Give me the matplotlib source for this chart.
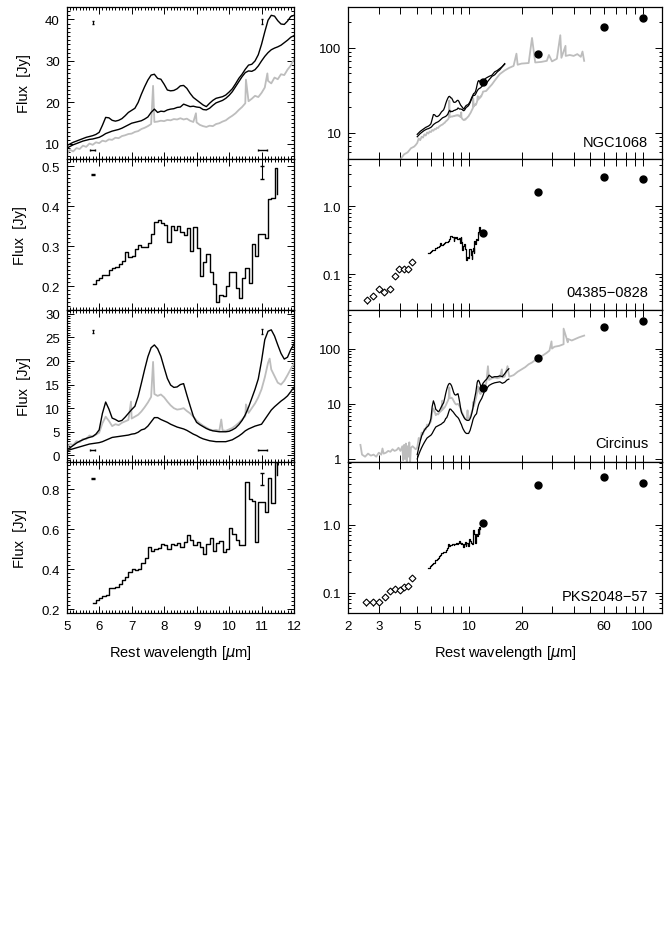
import numpy as np
import matplotlib.pyplot as plt
from matplotlib.ticker import MultipleLocator, FixedLocator, NullFormatter, LogLocator

plt.rcParams['font.family'] = ['Liberation Sans', 'DejaVu Sans']

# ---------------- data ----------------
wave = np.round(np.arange(5.0, 12.01, 0.1), 1)   # 71 points, 5-12 micron

# NGC1068 (left: three spectra)
ngc_up = [9.6, 10.0, 10.4, 10.7, 11.0, 11.3, 11.6, 11.8, 12.0, 12.3,
          12.8, 14.5, 16.4, 16.3, 15.7, 15.5, 15.7, 16.1, 16.8, 17.6,
          18.1, 18.6, 20.0, 22.0, 23.8, 25.4, 26.6, 26.8, 25.8, 25.6,
          24.4, 23.0, 22.8, 22.9, 23.3, 24.0, 24.1, 23.4, 22.2, 21.2,
          20.6, 20.0, 19.4, 19.0, 19.8, 20.5, 21.0, 21.2, 21.4, 21.8,
          22.5, 23.3, 24.5, 25.8, 26.8, 28.0, 29.0, 29.2, 30.0, 31.5,
          34.0, 37.0, 39.8, 41.0, 40.8, 39.7, 38.9, 38.8, 39.6, 40.7, 41.0]
ngc_mid = [9.0, 9.4, 9.8, 10.1, 10.4, 10.7, 10.9, 11.1, 11.2, 11.4,
           11.6, 12.0, 12.5, 12.8, 13.1, 13.3, 13.5, 13.8, 14.2, 14.6,
           15.0, 15.2, 15.4, 15.6, 16.0, 16.5, 17.6, 18.4, 17.6, 17.9,
           17.8, 18.2, 18.4, 18.5, 18.8, 18.9, 19.6, 19.3, 19.0, 19.1,
           18.9, 18.8, 18.3, 18.2, 18.6, 19.3, 19.9, 20.2, 20.5, 21.0,
           21.7, 22.6, 23.8, 25.0, 26.2, 27.2, 27.6, 27.5, 27.9, 28.8,
           30.0, 31.1, 32.0, 32.7, 33.1, 33.4, 33.8, 34.4, 35.0, 35.7, 36.1]
ngc_iso = [7.6, 8.6, 8.2, 9.0, 8.8, 9.6, 9.3, 10.1, 9.8, 10.4,
           10.2, 10.8, 10.6, 11.1, 11.0, 11.5, 11.4, 11.9, 12.1, 12.4,
           12.5, 12.9, 13.1, 13.6, 13.9, 14.3, 14.8, 15.3, 15.4, 15.6,
           15.5, 15.8, 15.7, 16.0, 15.9, 16.2, 15.9, 16.1, 15.6, 15.3,
           15.2, 14.6, 14.3, 14.1, 14.4, 14.3, 14.8, 15.0, 15.4, 15.7,
           16.3, 16.8, 17.4, 18.2, 18.9, 19.8, 20.3, 20.9, 21.6, 21.3,
           22.3, 23.6, 25.2, 24.6, 26.0, 25.6, 26.8, 26.6, 27.9, 28.9, 30.5]
ngc_spike_w = [7.66, 8.98, 10.52, 11.18]
ngc_spike_f = [24.0, 17.4, 25.5, 27.0]

# NGC1068 (right: extensions of the spectra)
ngc_ext_w = [12.5, 13.0, 13.5, 14.0, 14.5, 15.0, 15.5, 16.0]
ngc_up_ext = [44, 46, 47.5, 52, 54, 57, 60, 64]
ngc_mid_ext = [38, 42, 46, 48, 52, 55, 60, 65]
ngc_iso_pre_w = [4.0, 4.2, 4.4, 4.6, 4.8, 4.9]
ngc_iso_pre_f = [4.9, 5.6, 5.9, 6.6, 6.9, 7.2]
ngc_iso_post_w = [12.5, 13, 13.5, 14, 14.5, 15, 16, 17, 18, 19, 20, 22, 24, 26, 28,
                  30, 32, 34, 36, 38, 40, 42, 44, 45, 46]
ngc_iso_post_f = [31, 34, 37, 41, 45, 49, 54, 58, 61, 63, 65, 66, 67, 68, 70,
                  69, 74, 76, 80, 82, 80, 84, 78, 90, 70]
ngc_iso_spk_w = [18.7, 23.0, 28.8, 33.5, 35.9]
ngc_iso_spk_f = [85, 130, 82, 140, 105]
ngc_iras = [40, 85, 175, 222]

# Circinus
cir_up = [1.2, 1.6, 2.1, 2.6, 3.0, 3.3, 3.6, 3.8, 4.0, 4.5,
          5.4, 8.9, 11.3, 9.8, 7.9, 7.6, 7.2, 7.4, 8.1, 8.9,
          9.7, 10.4, 12.5, 15.3, 18.2, 20.9, 22.8, 23.4, 22.6, 21.0,
          18.6, 16.3, 14.9, 14.4, 14.5, 15.0, 15.2, 12.8, 10.5, 8.3,
          7.0, 6.5, 6.1, 5.7, 5.4, 5.2, 5.1, 5.0, 5.0, 5.0,
          5.1, 5.4, 5.8, 6.5, 7.4, 8.6, 10.2, 12.1, 14.0, 16.2,
          20.0, 24.5, 26.3, 26.6, 25.3, 23.4, 21.6, 20.4, 20.8, 22.4, 23.6]
cir_iso = [1.6, 2.4, 2.2, 3.0, 2.8, 3.5, 3.4, 4.2, 4.0, 4.4,
           4.8, 6.8, 8.2, 7.3, 6.2, 6.6, 6.4, 6.9, 7.2, 7.5,
           7.8, 8.2, 8.6, 9.3, 10.2, 11.2, 12.4, 13.0, 12.6, 12.9,
           12.3, 11.4, 10.6, 10.0, 9.7, 9.8, 10.0, 9.4, 8.9, 8.2,
           7.4, 6.8, 6.3, 5.9, 5.5, 5.3, 5.4, 5.2, 5.3, 5.2,
           5.5, 5.8, 6.3, 6.9, 7.6, 8.3, 9.0, 10.0, 11.0, 12.3,
           14.0, 16.5, 19.6, 18.2, 16.8, 15.4, 15.0, 15.8, 17.0, 18.3, 19.4]
cir_lo = [1.0, 1.2, 1.4, 1.6, 1.8, 2.0, 2.2, 2.4, 2.5, 2.6,
          2.7, 2.9, 3.2, 3.5, 3.8, 3.9, 4.0, 4.1, 4.2, 4.3,
          4.5, 4.6, 4.9, 5.4, 5.6, 6.2, 7.1, 8.0, 8.0, 7.6,
          7.3, 7.0, 6.6, 6.3, 6.0, 5.8, 5.6, 5.3, 4.9, 4.5,
          4.2, 3.8, 3.5, 3.3, 3.1, 3.0, 2.9, 2.9, 2.9, 2.9,
          3.1, 3.3, 3.7, 4.1, 4.6, 5.2, 5.6, 5.9, 6.2, 6.4,
          6.6, 7.6, 8.6, 9.6, 10.3, 10.9, 11.5, 12.0, 12.6, 13.5, 14.4]
cir_spike_w = [6.98, 7.66, 9.76, 10.52, 11.25]
cir_spike_f = [11.4, 19.8, 7.6, 10.8, 20.5]

cir_ext_w = [12.3, 12.6, 13.0, 13.5, 14.0, 14.5, 15.0, 15.5, 16.0, 16.5, 16.9]
cir_up_ext = [26, 28, 33, 30, 31, 31, 32, 31, 35, 40, 43]
cir_lo_ext = [18, 19, 21.5, 23, 24, 24.5, 25, 23.5, 24.5, 27, 28]
cir_iso_pre_w = [2.35, 2.4, 2.5, 2.6, 2.7, 2.8, 2.9, 3.0, 3.1, 3.15, 3.2, 3.3, 3.4,
                 3.5, 3.6, 3.7, 3.8, 3.9, 4.0, 4.1, 4.15, 4.2, 4.25, 4.3, 4.35,
                 4.4, 4.45, 4.5, 4.55, 4.6, 4.7, 4.8, 4.9]
cir_iso_pre_f = [1.8, 1.2, 1.1, 1.25, 1.15, 1.2, 1.1, 1.3, 1.2, 1.55, 1.25, 1.3, 1.4,
                 1.35, 1.5, 1.4, 1.45, 1.6, 1.4, 1.7, 0.95, 1.8, 1.0, 1.9, 0.9,
                 1.7, 1.1, 2.0, 0.9, 1.6, 1.7, 1.6, 1.5]
cir_iso_post_w = [12.5, 13, 13.5, 14, 14.5, 15, 15.5, 16, 17, 18, 19, 20, 21, 22, 23,
                  24, 25, 26, 27, 28, 29, 30, 31, 33, 35, 37, 39, 41, 43, 45, 46]
cir_iso_post_f = [23, 27, 29, 30, 29, 30, 30, 31, 31, 33, 38, 42, 46, 52, 56,
                  62, 67, 72, 78, 84, 92, 100, 108, 112, 120, 130, 140, 150, 160, 168, 172]
cir_iso_spk_w = [12.8, 15.4, 16.6, 29.8, 35.0, 37.0]
cir_iso_spk_f = [48, 42, 48, 135, 230, 150]
cir_iras = [19, 68, 250, 315]

# 04385-0828 (binned spectrum, 5.8-11.4 micron bins + end point)
ir04_wave = np.append(np.round(np.arange(5.8, 11.45, 0.1), 1), 11.48)
ir04_flux = [0.205, 0.215, 0.22, 0.228, 0.228, 0.24, 0.245, 0.248, 0.255, 0.262,
             0.285, 0.272, 0.275, 0.292, 0.302, 0.298, 0.298, 0.308, 0.33, 0.36,
             0.365, 0.357, 0.352, 0.31, 0.35, 0.34, 0.35, 0.335, 0.328, 0.345,
             0.288, 0.348, 0.295, 0.225, 0.26, 0.28, 0.235, 0.205, 0.16, 0.178,
             0.175, 0.2, 0.235, 0.235, 0.195, 0.17, 0.22, 0.245, 0.208, 0.305,
             0.275, 0.33, 0.33, 0.32, 0.418, 0.42, 0.495, 0.43]
ir04_nir_w = [2.55, 2.78, 3.0, 3.23, 3.47, 3.74, 3.95, 4.18, 4.4, 4.67]
ir04_nir_f = [0.042, 0.048, 0.060, 0.056, 0.060, 0.094, 0.118, 0.118, 0.120, 0.152]
ir04_nir_e = [0.005, 0.004, 0.004, 0.004, 0.004, 0.006, 0.006, 0.006, 0.006, 0.008]
ir04_iras = [0.41, 1.6, 2.7, 2.48]

# PKS2048-57
pks_wave = np.append(np.round(np.arange(5.8, 11.45, 0.1), 1), 11.48)
pks_flux = [0.23, 0.245, 0.255, 0.265, 0.27, 0.305, 0.305, 0.31, 0.325, 0.345,
            0.36, 0.385, 0.40, 0.395, 0.40, 0.43, 0.455, 0.51, 0.49, 0.50,
            0.505, 0.525, 0.52, 0.50, 0.525, 0.52, 0.53, 0.51, 0.535, 0.57,
            0.545, 0.52, 0.535, 0.51, 0.475, 0.525, 0.555, 0.49, 0.53, 0.54,
            0.485, 0.50, 0.605, 0.575, 0.545, 0.52, 0.52, 0.835, 0.75, 0.74,
            0.535, 0.735, 0.735, 0.685, 0.855, 0.73, 0.935, 0.87]
pks_nir_w = [2.54, 2.78, 3.02, 3.27, 3.49, 3.74, 4.0, 4.2, 4.42, 4.67]
pks_nir_f = [0.072, 0.072, 0.072, 0.085, 0.107, 0.112, 0.110, 0.120, 0.123, 0.162]
pks_nir_e = [0.009, 0.009, 0.009, 0.006, 0.006, 0.006, 0.006, 0.006, 0.006, 0.006]
pks_iras = [1.04, 3.8, 5.1, 4.05]

iras_wave = [12, 25, 60, 100]

# small error/resolution indicators on the left panels
err_w = [5.8, 11.0]
res_lo = [5.72, 10.9]
res_hi = [5.86, 11.16]


def merge(w, f, sw, sf):
    w = np.concatenate([np.asarray(w, float), sw])
    f = np.concatenate([np.asarray(f, float), sf])
    o = np.argsort(w)
    return w[o], f[o]


GRAY = '#bdbdbd'
LBL = 10.5
TCK = 9.5
fig = plt.figure(figsize=(6.68, 9.45), dpi=100)
H = 151.5 / 945
tops = [8, 159.5, 311, 462.5]
left_axes = []
right_axes = []
for t in tops:
    y0 = 1 - (t / 945) - H
    left_axes.append(fig.add_axes([66.7 / 668, y0, 227.3 / 668, H]))
    right_axes.append(fig.add_axes([348.3 / 668, y0, 314 / 668, H]))

# ----- left panels -----
ax = left_axes[0]
gw, gf = merge(wave, ngc_iso, ngc_spike_w, ngc_spike_f)
ax.plot(gw, gf, color=GRAY, lw=1.3)
ax.plot(wave, ngc_up, color='k', lw=1.0)
ax.plot(wave, ngc_mid, color='k', lw=1.0)
ax.errorbar(err_w, [39.3, 39.5], yerr=[0.3, 0.5], fmt='none', ecolor='k', elinewidth=0.8, capsize=1)
ax.errorbar([(a + b) / 2 for a, b in zip(res_lo, res_hi)], [8.5, 8.5],
            xerr=[(b - a) / 2 for a, b in zip(res_lo, res_hi)], fmt='none', ecolor='k', elinewidth=1, capsize=1)
ax.set_ylim(6.5, 43)
ax.yaxis.set_major_locator(MultipleLocator(10))
ax.yaxis.set_minor_locator(MultipleLocator(1))

ax = left_axes[1]
ax.plot(ir04_wave, ir04_flux, color='k', lw=1.0, drawstyle='steps-post')
ax.errorbar(err_w, [0.48, 0.484], yerr=[0.002, 0.016], fmt='none', ecolor='k', elinewidth=0.8, capsize=1.5)
ax.set_ylim(0.14, 0.52)
ax.yaxis.set_major_locator(MultipleLocator(0.1))
ax.yaxis.set_minor_locator(MultipleLocator(0.01))

ax = left_axes[2]
gw, gf = merge(wave, cir_iso, cir_spike_w, cir_spike_f)
ax.plot(gw, gf, color=GRAY, lw=1.3)
ax.plot(wave, cir_up, color='k', lw=1.0)
ax.plot(wave, cir_lo, color='k', lw=1.0)
ax.errorbar(err_w, [26.3, 26.3], yerr=[0.3, 0.5], fmt='none', ecolor='k', elinewidth=0.8, capsize=1)
ax.errorbar([(a + b) / 2 for a, b in zip(res_lo, res_hi)], [1.2, 1.2],
            xerr=[(b - a) / 2 for a, b in zip(res_lo, res_hi)], fmt='none', ecolor='k', elinewidth=1, capsize=1)
ax.set_ylim(-1.3, 30.8)
ax.yaxis.set_major_locator(MultipleLocator(5))
ax.yaxis.set_minor_locator(MultipleLocator(0.5))

ax = left_axes[3]
ax.plot(pks_wave, pks_flux, color='k', lw=1.0, drawstyle='steps-post')
ax.errorbar(err_w, [0.855, 0.85], yerr=[0.003, 0.03], fmt='none', ecolor='k', elinewidth=0.8, capsize=1.5)
ax.set_ylim(0.18, 0.94)
ax.yaxis.set_major_locator(MultipleLocator(0.2))
ax.yaxis.set_minor_locator(MultipleLocator(0.02))

for i, ax in enumerate(left_axes):
    ax.set_xlim(5, 12)
    ax.xaxis.set_major_locator(MultipleLocator(1))
    ax.xaxis.set_minor_locator(MultipleLocator(0.1))
    ax.set_ylabel('Flux  [Jy]', fontsize=LBL, labelpad=10)
    if i < 3:
        ax.set_xticklabels([])

left_axes[3].set_xlabel(r'Rest wavelength [$\mu$m]', fontsize=LBL, labelpad=8)

# ----- right panels -----
for ax in right_axes:
    ax.set_xscale('log')
    ax.set_yscale('log')

ax = right_axes[0]
gw, gf = merge(np.concatenate([ngc_iso_pre_w, wave, ngc_iso_post_w]),
               np.concatenate([ngc_iso_pre_f, ngc_iso, ngc_iso_post_f]),
               np.concatenate([ngc_spike_w, ngc_iso_spk_w]),
               np.concatenate([ngc_spike_f, ngc_iso_spk_f]))
ax.plot(gw, gf, color=GRAY, lw=1.3)
ax.plot(np.concatenate([wave, ngc_ext_w]), np.concatenate([ngc_up, ngc_up_ext]), color='k', lw=0.9)
ax.plot(np.concatenate([wave, ngc_ext_w]), np.concatenate([ngc_mid, ngc_mid_ext]), color='k', lw=0.9)
ax.plot(iras_wave, ngc_iras, 'ko', ms=5)
ax.set_ylim(5, 300)
ax.yaxis.set_major_locator(FixedLocator([10, 100]))
ax.set_yticklabels(['10', '100'])
ax.text(0.955, 0.11, 'NGC1068', transform=ax.transAxes, ha='right', va='center', fontsize=LBL)

ax = right_axes[1]
ax.plot(ir04_wave, ir04_flux, color='k', lw=0.9, drawstyle='steps-post')
ax.errorbar(ir04_nir_w, ir04_nir_f, yerr=ir04_nir_e, fmt='D', ms=3.5, mfc='white', mec='k',
            mew=0.8, ecolor='k', elinewidth=0.8, capsize=0)
ax.plot(iras_wave, ir04_iras, 'ko', ms=5)
ax.set_ylim(0.03, 5)
ax.yaxis.set_major_locator(FixedLocator([0.1, 1.0]))
ax.set_yticklabels(['0.1', '1.0'])
ax.text(0.955, 0.12, '04385\u22120828', transform=ax.transAxes, ha='right', va='center', fontsize=LBL)

ax = right_axes[2]
gw, gf = merge(np.concatenate([cir_iso_pre_w, wave, cir_iso_post_w]),
               np.concatenate([cir_iso_pre_f, cir_iso, cir_iso_post_f]),
               np.concatenate([cir_spike_w, cir_iso_spk_w]),
               np.concatenate([cir_spike_f, cir_iso_spk_f]))
ax.plot(gw, gf, color=GRAY, lw=1.3)
ax.plot(np.concatenate([wave, cir_ext_w]), np.concatenate([cir_up, cir_up_ext]), color='k', lw=0.9)
ax.plot(np.concatenate([wave, cir_ext_w]), np.concatenate([cir_lo, cir_lo_ext]), color='k', lw=0.9)
ax.plot(iras_wave, cir_iras, 'ko', ms=5)
ax.set_ylim(0.9, 500)
ax.yaxis.set_major_locator(FixedLocator([1, 10, 100]))
ax.set_yticklabels(['1', '10', '100'])
ax.text(0.955, 0.12, 'Circinus', transform=ax.transAxes, ha='right', va='center', fontsize=LBL)

ax = right_axes[3]
ax.plot(pks_wave, pks_flux, color='k', lw=0.9, drawstyle='steps-post')
ax.errorbar(pks_nir_w, pks_nir_f, yerr=pks_nir_e, fmt='D', ms=3.5, mfc='white', mec='k',
            mew=0.8, ecolor='k', elinewidth=0.8, capsize=0)
ax.plot(iras_wave, pks_iras, 'ko', ms=5)
ax.set_ylim(0.05, 8.5)
ax.yaxis.set_major_locator(FixedLocator([0.1, 1.0]))
ax.set_yticklabels(['0.1', '1.0'])
ax.text(0.955, 0.115, 'PKS2048\u221257', transform=ax.transAxes, ha='right', va='center', fontsize=LBL)

xt = [2, 3, 4, 5, 6, 7, 8, 9, 10, 20, 30, 40, 50, 60, 70, 80, 90, 100]
xl = ['2', '3', '', '5', '', '', '', '', '10', '20', '', '', '', '60', '', '', '', '100']
for i, ax in enumerate(right_axes):
    ax.set_xlim(2, 130)
    ax.xaxis.set_major_locator(FixedLocator(xt))
    ax.xaxis.set_minor_locator(FixedLocator([]))
    if i == 3:
        ax.set_xticklabels(xl)
    else:
        ax.set_xticklabels([])
    ax.yaxis.set_minor_locator(LogLocator(base=10, subs=np.arange(2, 10)))
    ax.yaxis.set_minor_formatter(NullFormatter())

right_axes[3].set_xlabel(r'Rest wavelength [$\mu$m]', fontsize=LBL, labelpad=8)

for ax in left_axes + right_axes:
    ax.tick_params(which='both', direction='in', top=True, right=True, labelsize=TCK, width=0.7)
    ax.tick_params(which='major', length=5, pad=5)
    ax.tick_params(which='minor', length=2.5)
    for s in ax.spines.values():
        s.set_linewidth(0.9)

fig.savefig('out.png', dpi=100)
